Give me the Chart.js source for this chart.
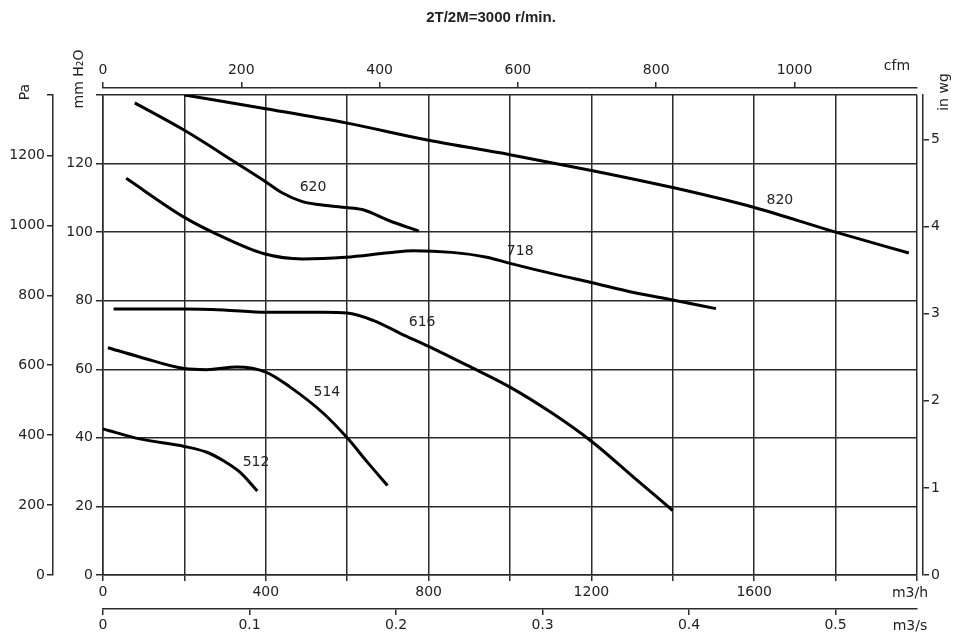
<!DOCTYPE html>
<html>
<head>
<meta charset="utf-8">
<title>2T/2M=3000 r/min.</title>
<script src="https://cdn.jsdelivr.net/npm/chart.js@4.4.1/dist/chart.umd.min.js"></script>
<style>
  body { margin: 0; background: #fff; }
  #wrap { width: 961px; height: 640px; }
</style>
</head>
<body>
<div id="wrap"><canvas id="fanChart" width="961" height="640"></canvas></div>
<script>
// caudal en m3/h, presion en mm H2O
const curveNames = ['512', '514', '616', '620', '718', '820'];

const flow512 = [0, 90, 200, 255, 296, 337, 379];
const press512 = [42.6, 39.7, 37.5, 35.8, 33.3, 29.9, 24.5];

const flow514 = [12, 90, 200, 255, 329, 400, 460, 542, 600, 649, 699];
const press514 = [66.3, 63.6, 60.2, 59.9, 60.7, 59.2, 54.8, 47.1, 40, 33, 26.1];

const flow616 = [26, 200, 296, 400, 542, 600, 665, 730, 800, 894, 1000, 1106, 1200, 1304, 1400];
const press616 = [77.6, 77.6, 77.3, 76.6, 76.6, 76.4, 74.2, 70.5, 66.7, 61.2, 54.8, 47, 39, 28.5, 18.8];

const flow620 = [78, 200, 326, 396, 441, 490, 555, 596, 637, 702, 776];
const press620 = [137.7, 129.7, 120.3, 115, 111.4, 108.9, 107.7, 107.2, 106.6, 103.4, 100.3];

const flow718 = [57, 200, 278, 396, 490, 596, 702, 763, 857, 943, 1000, 1114, 1197, 1304, 1400, 1506];
const press718 = [115.7, 104.3, 99.5, 93.7, 92.2, 92.7, 94.0, 94.6, 94.1, 92.7, 90.9, 87.6, 85.4, 82.4, 80.2, 77.7];

const flow820 = [200, 400, 600, 800, 1000, 1200, 1400, 1600, 1800, 1980];
const press820 = [140, 136, 131.8, 126.8, 122.6, 118, 113, 107.2, 100, 93.9];

const flows = [flow512, flow514, flow616, flow620, flow718, flow820];
const pressures = [press512, press514, press616, press620, press718, press820];

// tick values of every axis
const m3hTicks = [0, 200, 400, 600, 800, 1000, 1200, 1400, 1600, 1800, 2000];
const m3hLabels = [0, 400, 800, 1200, 1600];
const m3sTicks = [0, 0.1, 0.2, 0.3, 0.4, 0.5];
const cfmTicks = [0, 200, 400, 600, 800, 1000];
const mmTicks = [0, 20, 40, 60, 80, 100, 120, 140];
const paTicks = [0, 200, 400, 600, 800, 1000, 1200];
const inwgTicks = [0, 1, 2, 3, 4, 5];

// unit conversions for the secondary axes
const maxM3h = 2000;
const maxMm = 140;
const m3hPerCfm = 1.699;
const paPerMm = 9.80665;
const mmPerInwg = 25.4;

// where each curve name is written (m3/h, mm H2O)
const labelPos = {
    '512': [376, 32.9],
    '514': [550, 53.3],
    '616': [784, 73.7],
    '620': [516, 113],
    '718': [1025, 94.4],
    '820': [1663, 109.2]
};

const textColor = '#222';
const lineColor = '#2b2b2b';
const tickFont = { family: '"DejaVu Sans"', size: 14 };

const datasets = curveNames.map((name, i) => ({
    label: name,
    data: flows[i].map((f, j) => ({ x: f, y: pressures[i][j] })),
    showLine: true,
    borderColor: '#000',
    borderWidth: 3,
    pointRadius: 0,
    cubicInterpolationMode: 'monotone',
    fill: false
}));

function fixedTicks(values, withEnd) {
    return s => {
        s.ticks = values.map(v => ({ value: v }));
        if (withEnd) s.ticks.push({ value: s.max, label: '' });
    };
}

function plainLabel(values) {
    return v => values.includes(v) ? String(v) : '';
}

function spacer(pos, size) {
    return {
        type: 'linear', position: pos, weight: 0, min: 0, max: 1,
        grid: { display: false }, ticks: { display: false }, border: { display: false },
        afterFit: s => { if (s.isHorizontal()) s.height = size; else s.width = size; }
    };
}

function sideAxis(pos, max, values, size, pad, withEnd) {
    return {
        type: 'linear', position: pos, weight: 1, min: 0, max: max,
        afterBuildTicks: fixedTicks(values, withEnd),
        ticks: {
            autoSkip: false, maxRotation: 0, color: textColor, font: tickFont, padding: pad,
            callback: plainLabel(values)
        },
        grid: { drawOnChartArea: false, color: lineColor, lineWidth: 1.5, tickLength: 6 },
        border: { color: lineColor, width: 1.5 },
        afterFit: s => { if (s.isHorizontal()) s.height = size; else s.width = size; }
    };
}

const chartTexts = {
    id: 'chartTexts',
    afterDraw(chart) {
        const ctx = chart.ctx;
        const xs = chart.scales.x;
        const ys = chart.scales.y;
        ctx.save();
        ctx.fillStyle = textColor;
        ctx.textAlign = 'center';
        ctx.textBaseline = 'middle';

        ctx.font = 'bold 15px "Liberation Sans"';
        ctx.fillText('2T/2M=3000 r/min.', 491, 18);

        ctx.font = '14px "DejaVu Sans"';
        curveNames.forEach(name => {
            const p = labelPos[name];
            ctx.fillText(name, xs.getPixelForValue(p[0]), ys.getPixelForValue(p[1]));
        });

        ctx.fillText('cfm', 897, 66);
        ctx.fillText('m3/h', 910, 593);
        ctx.fillText('m3/s', 910, 626);

        const vertical = [['Pa', 25, 92], ['mm H\u2082O', 79, 79], ['in wg', 944, 92]];
        vertical.forEach(t => {
            ctx.save();
            ctx.translate(t[1], t[2]);
            ctx.rotate(-Math.PI / 2);
            ctx.fillText(t[0], 0, 0);
            ctx.restore();
        });

        ctx.restore();
    }
};

const ctx = document.getElementById('fanChart').getContext('2d');

new Chart(ctx, {
    type: 'scatter',
    data: { datasets: datasets },
    options: {
        responsive: false,
        devicePixelRatio: 1,
        animation: false,
        layout: { padding: { top: 50, left: 0, right: 0, bottom: 0 } },
        plugins: {
            legend: { display: false },
            tooltip: { enabled: false },
            title: { display: false }
        },
        scales: {
            x: {
                type: 'linear', position: 'bottom', weight: 0, min: 0, max: maxM3h,
                afterBuildTicks: fixedTicks(m3hTicks, false),
                ticks: {
                    autoSkip: false, maxRotation: 0, color: textColor, font: tickFont, padding: 3,
                    callback: plainLabel(m3hLabels)
                },
                grid: { color: lineColor, lineWidth: 1.5, tickLength: 6 },
                border: { color: lineColor, width: 1.5 },
                afterFit: s => { s.height = 34; }
            },
            xs: sideAxis('bottom', maxM3h / 3600, m3sTicks, 31, 2, false),
            topGap: spacer('top', 7),
            cfm: sideAxis('top', maxM3h / m3hPerCfm, cfmTicks, 38, 3, false),
            y: {
                type: 'linear', position: 'left', weight: 0, min: 0, max: maxMm,
                afterBuildTicks: fixedTicks(mmTicks, false),
                ticks: {
                    autoSkip: false, color: textColor, font: tickFont, padding: 3,
                    callback: v => v < maxMm ? String(v) : ''
                },
                grid: { color: lineColor, lineWidth: 1.5, tickLength: 7 },
                border: { color: lineColor, width: 1.5 },
                afterFit: s => { s.width = 50; }
            },
            pa: sideAxis('left', maxMm * paPerMm, paTicks, 53, 2, true),
            rightGap: spacer('right', 6),
            inwg: sideAxis('right', maxMm / mmPerInwg, inwgTicks, 38, 2, false)
        }
    },
    plugins: [chartTexts]
});
</script>
</body>
</html>
